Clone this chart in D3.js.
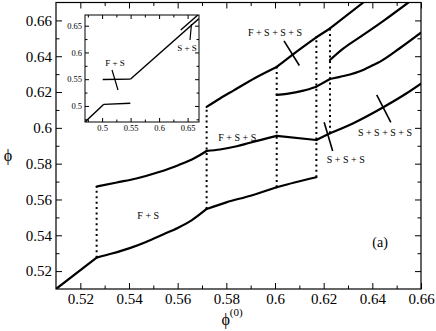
<!DOCTYPE html>
<html>
<head>
<meta charset="utf-8">
<script src="https://cdn.jsdelivr.net/npm/d3@7"></script>
<style>
  body { margin: 0; background: #fff; }
  svg, svg text { font-family: "Liberation Serif", "DejaVu Serif", serif !important; }
</style>
</head>
<body>
<svg id="chart" width="436" height="331"></svg>
<script>
// ticks of the main panel
const xMajor = [0.52, 0.54, 0.56, 0.58, 0.60, 0.62, 0.64, 0.66]
const xMajorLabels = ["0.52", "0.54", "0.56", "0.58", "0.6", "0.62", "0.64", "0.66"]
const xMinor = [0.53, 0.55, 0.57, 0.59, 0.61, 0.63, 0.65]
const yMajor = [0.52, 0.54, 0.56, 0.58, 0.60, 0.62, 0.64, 0.66]
const yMajorLabels = ["0.52", "0.54", "0.56", "0.58", "0.6", "0.62", "0.64", "0.66"]
const yMinor = [0.53, 0.55, 0.57, 0.59, 0.61, 0.63, 0.65]

// branches, each split at its kinks
const branch1 = [
  [[0.51, 0.51], [0.5267, 0.5275]],
  [[0.5267, 0.5275], [0.533, 0.5298], [0.54, 0.5327], [0.547, 0.5363], [0.554, 0.5405], [0.56, 0.5441], [0.566, 0.5486], [0.5719, 0.5547]],
  [[0.5719, 0.5547], [0.58, 0.5584], [0.59, 0.5621], [0.6007, 0.5668]],
  [[0.6007, 0.5668], [0.608, 0.5695], [0.617, 0.5724]]
]
const branch2 = [
  [[0.5267, 0.5672], [0.535, 0.5695], [0.543, 0.5717], [0.552, 0.5752], [0.5605, 0.5793], [0.567, 0.5832], [0.5719, 0.5871]],
  [[0.5719, 0.5871], [0.5774, 0.5879], [0.5843, 0.5897], [0.5897, 0.5917], [0.6007, 0.5955]],
  [[0.6007, 0.5955], [0.617, 0.5932]],
  [[0.617, 0.5932], [0.6226, 0.597]],
  [[0.6226, 0.597], [0.6322, 0.6026], [0.6445, 0.6115], [0.6541, 0.6193], [0.66, 0.6247]]
]
const branch3 = [
  [[0.5719, 0.6117], [0.5774, 0.6164], [0.5829, 0.6208], [0.592, 0.628], [0.6007, 0.634]],
  [[0.6007, 0.634], [0.6089, 0.6426], [0.617, 0.6506]],
  [[0.617, 0.6506], [0.6226, 0.6555]],
  [[0.6226, 0.6555], [0.6363, 0.67]]
]
const branch4 = [
  [[0.6007, 0.6184], [0.6048, 0.619], [0.6117, 0.6208], [0.617, 0.623]],
  [[0.617, 0.623], [0.6226, 0.6273]],
  [[0.6226, 0.6273], [0.6267, 0.6285], [0.6308, 0.6298], [0.6349, 0.6316], [0.6404, 0.6351], [0.6432, 0.637], [0.6514, 0.6446], [0.66, 0.6532]]
]
const branch5 = [
  [[0.6226, 0.6379], [0.628, 0.6442], [0.6355, 0.6512], [0.645, 0.6602], [0.6548, 0.67]]
]

// dotted jumps
const jumpX = [0.5267, 0.5719, 0.6007, 0.617, 0.6226]
const jumpLow = [0.5275, 0.5547, 0.5668, 0.5724, 0.597]
const jumpHigh = [0.5672, 0.6117, 0.634, 0.6506, 0.6555]

// inset
const insetMajor = [0.5, 0.55, 0.6, 0.65]
const insetMajorLabels = ["0.5", "0.55", "0.6", "0.65"]
const insetMinor = [0.475, 0.525, 0.575, 0.625]
const insetLower = [
  [[0.47, 0.47], [0.503, 0.503]],
  [[0.503, 0.503], [0.5495, 0.505]]
]
const insetUpper = [
  [[0.501, 0.5495], [0.55, 0.5502]],
  [[0.55, 0.5502], [0.67, 0.6635]]
]
const insetBranch = [
  [[0.638, 0.642], [0.668, 0.67]]
]

// annotations
const mainNotes = [
  { text: "F + S", x: 0.5479, y: 0.5508 },
  { text: "F + S + S", x: 0.5845, y: 0.5948 },
  { text: "F + S + S + S", x: 0.6, y: 0.6534 },
  { text: "S + S + S", x: 0.6291, y: 0.5826 },
  { text: "S + S + S + S", x: 0.6452, y: 0.5975 }
]
const mainPointers = [
  [[0.6037, 0.6486], [0.61, 0.6348]],
  [[0.6202, 0.6031], [0.6237, 0.5871]],
  [[0.6418, 0.6184], [0.6476, 0.6031]]
]
const insetNotes = [
  { text: "F + S", x: 0.5226, y: 0.5803 },
  { text: "S + S", x: 0.649, y: 0.6083 }
]
const insetPointers = [
  [[0.5174, 0.5672], [0.5279, 0.5298]],
  [[0.6568, 0.6532], [0.6542, 0.6233]]
]

const FONT = '"Liberation Serif", "DejaVu Serif", serif'
const svg = d3.select("#chart").attr("font-family", FONT)
svg.append("rect").attr("width", 436).attr("height", 331).attr("fill", "#fff")

const mLeft = 56, mRight = 421, mTop = 2.5, mBottom = 289
const x = d3.scaleLinear().domain([0.51, 0.66]).range([mLeft, mRight])
const y = d3.scaleLinear().domain([0.51, 0.67]).range([mBottom, mTop])

function drawTicks(g, axisFn, scale, major, labels, minor, at, bigTick, smallTick, pad, fontSize) {
  let a = g.append("g").attr("transform", at)
    .call(axisFn(scale).tickValues(major).tickSize(-bigTick).tickSizeOuter(0).tickPadding(pad)
      .tickFormat((d, i) => labels ? labels[i] : ""))
  a.attr("font-family", FONT).attr("font-size", fontSize)
  a.select(".domain").remove()
  a.selectAll("line").attr("stroke", "#000").attr("stroke-width", 1)
  a.selectAll("text").attr("fill", "#000")
  let b = g.append("g").attr("transform", at)
    .call(axisFn(scale).tickValues(minor).tickSize(-smallTick).tickSizeOuter(0).tickFormat(""))
  b.select(".domain").remove()
  b.selectAll("line").attr("stroke", "#000").attr("stroke-width", 1)
}

// main frame + ticks
const axes = svg.append("g")
drawTicks(axes, d3.axisBottom, x, xMajor, xMajorLabels, xMinor, `translate(0,${mBottom})`, 6, 3.5, 4, 15)
drawTicks(axes, d3.axisTop, x, xMajor, null, xMinor, `translate(0,${mTop})`, 6, 3.5, 4, 15)
drawTicks(axes, d3.axisLeft, y, yMajor, yMajorLabels, yMinor, `translate(${mLeft},0)`, 6, 3.5, 4, 15)
drawTicks(axes, d3.axisRight, y, yMajor, null, yMinor, `translate(${mRight},0)`, 6, 3.5, 4, 15)
svg.append("rect").attr("x", mLeft).attr("y", mTop).attr("width", mRight - mLeft).attr("height", mBottom - mTop)
  .attr("fill", "none").attr("stroke", "#000").attr("stroke-width", 1.2)

svg.append("clipPath").attr("id", "plotclip").append("rect")
  .attr("x", mLeft).attr("y", mTop).attr("width", mRight - mLeft).attr("height", mBottom - mTop)

const plot = svg.append("g").attr("clip-path", "url(#plotclip)")
const line = d3.line().x(d => x(d[0])).y(d => y(d[1])).curve(d3.curveMonotoneX)

;[branch1, branch2, branch3, branch4, branch5].forEach(br => {
  plot.append("g").selectAll("path").data(br).join("path")
    .attr("d", line).attr("fill", "none").attr("stroke", "#000")
    .attr("stroke-width", 2.2).attr("stroke-linejoin", "round").attr("stroke-linecap", "round")
})

plot.selectAll(".jump").data(jumpX).join("line").attr("class", "jump")
  .attr("x1", d => x(d)).attr("x2", d => x(d))
  .attr("y1", (d, i) => y(jumpLow[i])).attr("y2", (d, i) => y(jumpHigh[i]))
  .attr("stroke", "#000").attr("stroke-width", 2).attr("stroke-dasharray", "2,3.4")

plot.selectAll(".ptr").data(mainPointers).join("path").attr("class", "ptr")
  .attr("d", d3.line().x(d => x(d[0])).y(d => y(d[1])))
  .attr("stroke", "#000").attr("stroke-width", 1.6)

svg.selectAll(".note").data(mainNotes).join("text").attr("class", "note")
  .attr("x", d => x(d.x)).attr("y", d => y(d.y)).attr("dy", "0.35em")
  .attr("text-anchor", "middle").attr("font-size", 10).text(d => d.text)

svg.append("text").attr("x", x(0.6432)).attr("y", y(0.5364)).attr("dy", "0.35em")
  .attr("text-anchor", "middle").attr("font-size", 14).text("(a)")

// axis titles
svg.append("text").attr("x", 8).attr("y", 161).attr("text-anchor", "middle")
  .attr("font-size", 16).text("ϕ")
const xt = svg.append("text").attr("x", 232).attr("y", 325).attr("text-anchor", "middle").attr("font-size", 16)
xt.append("tspan").text("ϕ")
xt.append("tspan").attr("dy", -9).attr("font-size", 11).text("(0)")

// inset
const iL = 85, iR = 199, iT = 15, iB = 122
const xi = d3.scaleLinear().domain([0.47, 0.67]).range([iL, iR])
const yi = d3.scaleLinear().domain([0.47, 0.67]).range([iB, iT])
const inset = svg.append("g")
inset.append("rect").attr("x", iL).attr("y", iT).attr("width", iR - iL).attr("height", iB - iT).attr("fill", "#fff")
drawTicks(inset, d3.axisBottom, xi, insetMajor, insetMajorLabels, insetMinor, `translate(0,${iB})`, 4, 2.5, 2.7, 8.5)
drawTicks(inset, d3.axisTop, xi, insetMajor, null, insetMinor, `translate(0,${iT})`, 4, 2.5, 2.7, 8.5)
drawTicks(inset, d3.axisLeft, yi, insetMajor, insetMajorLabels, insetMinor, `translate(${iL},0)`, 4, 2.5, 3, 8.5)
drawTicks(inset, d3.axisRight, yi, insetMajor, null, insetMinor, `translate(${iR},0)`, 4, 2.5, 3, 8.5)
inset.append("rect").attr("x", iL).attr("y", iT).attr("width", iR - iL).attr("height", iB - iT)
  .attr("fill", "none").attr("stroke", "#000").attr("stroke-width", 1)

svg.append("clipPath").attr("id", "insetclip").append("rect")
  .attr("x", iL).attr("y", iT).attr("width", iR - iL).attr("height", iB - iT)
const iplot = inset.append("g").attr("clip-path", "url(#insetclip)")
const iline = d3.line().x(d => xi(d[0])).y(d => yi(d[1]))
;[insetLower, insetUpper, insetBranch].forEach(br => {
  iplot.append("g").selectAll("path").data(br).join("path")
    .attr("d", iline).attr("fill", "none").attr("stroke", "#000").attr("stroke-width", 1.4)
})
iplot.selectAll(".iptr").data(insetPointers).join("path").attr("class", "iptr")
  .attr("d", iline).attr("stroke", "#000").attr("stroke-width", 1.2)
inset.selectAll(".inote").data(insetNotes).join("text").attr("class", "inote")
  .attr("x", d => xi(d.x)).attr("y", d => yi(d.y)).attr("dy", "0.35em")
  .attr("text-anchor", "middle").attr("font-size", 9).text(d => d.text)
</script>
</body>
</html>
